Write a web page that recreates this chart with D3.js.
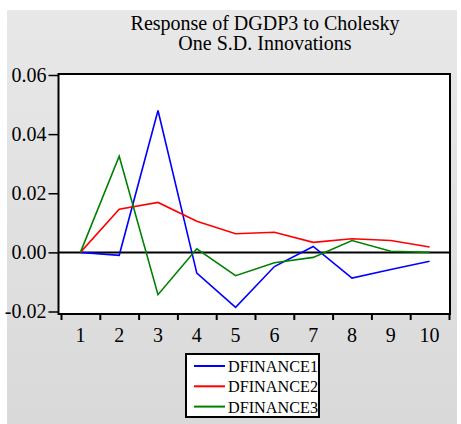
<!DOCTYPE html>
<html>
<head>
<meta charset="utf-8">
<title>Response of DGDP3 to Cholesky</title>
<style>
body { margin: 0; background: #fff; }
svg text { font-family: "Liberation Serif", "Times New Roman", serif; fill: #000; }
</style>
</head>
<body>
<svg id="chart" width="461" height="424"></svg>
<script src="https://d3js.org/d3.v7.min.js"></script>
<script>
// periods and impulse responses
var periods = [1, 2, 3, 4, 5, 6, 7, 8, 9, 10]
var dfinance1 = [0, -0.001, 0.048, -0.007, -0.0186, -0.0048, 0.002, -0.0087, -0.0058, -0.003]
var dfinance2 = [0, 0.0146, 0.0169, 0.0105, 0.0063, 0.0068, 0.0034, 0.0046, 0.004, 0.0018]
var dfinance3 = [0, 0.0325, -0.0143, 0.0012, -0.0079, -0.0035, -0.0017, 0.004, 0.0004, 0.0]
var seriesNames = ['DFINANCE1', 'DFINANCE2', 'DFINANCE3']
var yTicks = [-0.02, 0.00, 0.02, 0.04, 0.06]

var colors = ['#0000ff', '#ff0000', '#008000']
var series = [dfinance1, dfinance2, dfinance3]
var serif = '"Liberation Serif", "Times New Roman", serif'

var svg = d3.select('#chart')

// grey panel
var grad = svg.append('defs').append('linearGradient')
  .attr('id', 'bg').attr('x1', 0).attr('y1', 0).attr('x2', 0).attr('y2', 1)
grad.append('stop').attr('offset', '0%').attr('stop-color', '#e8e8e8')
grad.append('stop').attr('offset', '100%').attr('stop-color', '#d9d9d9')
svg.append('rect').attr('x', 7).attr('y', 10).attr('width', 450).attr('height', 414)
  .attr('fill', 'url(#bg)')

var plot = {left: 58.5, right: 450, top: 74, bottom: 314}

var x = d3.scaleLinear().domain([0.5, 10.5]).range([61, 449])
var y = d3.scaleLinear().domain([-0.02, 0.06]).range([311.5, 75])

// title
svg.append('text').attr('x', 265).attr('y', 30).attr('text-anchor', 'middle')
  .style('font-size', '20px').text('Response of DGDP3 to Cholesky')
svg.append('text').attr('x', 265).attr('y', 50).attr('text-anchor', 'middle')
  .style('font-size', '20px').text('One S.D. Innovations')

svg.append('rect')
  .attr('x', plot.left).attr('y', plot.top)
  .attr('width', plot.right - plot.left).attr('height', plot.bottom - plot.top)
  .attr('fill', '#fff')

// zero line
svg.append('line')
  .attr('x1', plot.left).attr('x2', plot.right)
  .attr('y1', y(0)).attr('y2', y(0))
  .attr('stroke', '#000').attr('stroke-width', 2)

// y axis
var fmt = d3.format('.2f')
var yAxis = d3.axisLeft(y).tickValues(yTicks).tickSize(10).tickPadding(2)
  .tickFormat(function(d) { return fmt(d).replace('\u2212', '-') })
var gy = svg.append('g').attr('transform', 'translate(' + plot.left + ',0)').call(yAxis)
  .attr('font-family', serif).attr('font-size', 20)
gy.select('.domain').remove()
gy.selectAll('.tick line').attr('stroke-width', 1.5)

// x axis: ticks at period boundaries, labels at centres
var boundaries = d3.range(0.5, 11, 1)
var gx = svg.append('g').attr('transform', 'translate(0,' + plot.bottom + ')')
  .call(d3.axisBottom(x).tickValues(boundaries).tickSize(6).tickFormat(''))
gx.select('.domain').remove()
gx.selectAll('.tick line').attr('stroke-width', 2)
svg.append('g').selectAll('text').data(periods).enter().append('text')
  .attr('x', function(d) { return x(d) })
  .attr('y', 342)
  .attr('text-anchor', 'middle')
  .style('font-size', '20px')
  .text(function(d) { return d })

// lines
var line = d3.line()
  .x(function(d, i) { return x(periods[i]) })
  .y(function(d) { return y(d) })

svg.selectAll('.series').data(series).enter().append('path')
  .attr('d', line)
  .attr('fill', 'none')
  .attr('stroke', function(d, i) { return colors[i] })
  .attr('stroke-width', 1.6)

// frame
svg.append('rect')
  .attr('x', plot.left).attr('y', plot.top)
  .attr('width', plot.right - plot.left).attr('height', plot.bottom - plot.top)
  .attr('fill', 'none').attr('stroke', '#000').attr('stroke-width', 2)

// legend
var lg = svg.append('g')
lg.append('rect').attr('x', 186).attr('y', 354).attr('width', 133).attr('height', 63)
  .attr('fill', '#fff').attr('stroke', '#000').attr('stroke-width', 2)
seriesNames.forEach(function(name, i) {
  var cy = 366 + i * 20.3
  lg.append('line').attr('x1', 194).attr('x2', 225).attr('y1', cy).attr('y2', cy)
    .attr('stroke', colors[i]).attr('stroke-width', 2)
  lg.append('text').attr('x', 228).attr('y', cy + 6).style('font-size', '17px')
    .attr('textLength', 90).attr('lengthAdjust', 'spacingAndGlyphs')
    .text(name)
})
</script>
</body>
</html>
